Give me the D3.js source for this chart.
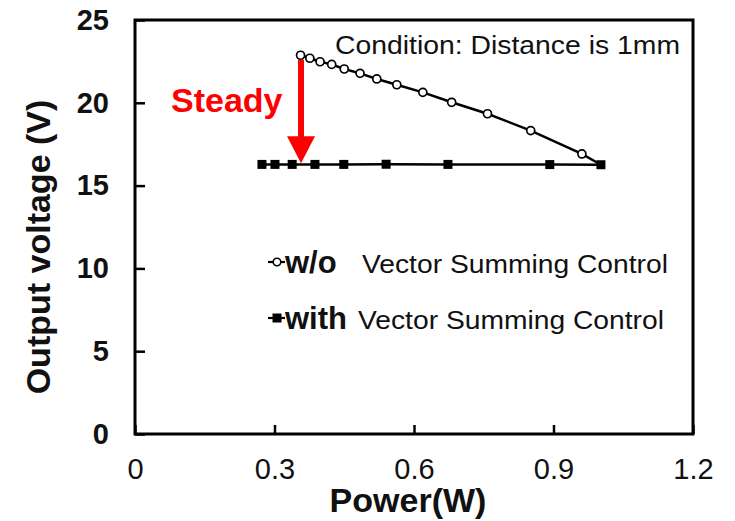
<!DOCTYPE html>
<html>
<head>
<meta charset="utf-8">
<script src="https://cdn.jsdelivr.net/npm/d3@7"></script>
<style>
  body { margin: 0; background: #fff; }
  svg { display: block; font-family: "Liberation Sans", Arial, sans-serif; }
</style>
</head>
<body>
<div id="chart"></div>
<script>
// data
const withoutPower = [0.356, 0.376, 0.398, 0.423, 0.450, 0.484, 0.520, 0.563, 0.619, 0.681, 0.758, 0.851, 0.961, 1.002];
const withoutVoltage = [22.87, 22.69, 22.48, 22.32, 22.04, 21.78, 21.44, 21.09, 20.63, 20.03, 19.34, 18.32, 16.91, 16.26];
const withPower = [0.273, 0.301, 0.338, 0.387, 0.449, 0.540, 0.673, 0.892, 1.002];
const withVoltage = [16.28, 16.28, 16.28, 16.28, 16.28, 16.29, 16.28, 16.27, 16.26];
const xTicks = [0, 0.3, 0.6, 0.9, 1.2];
const yTicks = [0, 5, 10, 15, 20, 25];
const arrowPower = 0.357, arrowFrom = 22.6, arrowTo = 16.35;

const width = 735, height = 521;
const margin = { top: 20, right: 42, bottom: 87, left: 135 };
const innerWidth = width - margin.left - margin.right;
const innerHeight = height - margin.top - margin.bottom;
const font = '"Liberation Sans", Arial, sans-serif';

const svg = d3.select("#chart").append("svg")
  .attr("width", width)
  .attr("height", height);

const g = svg.append("g")
  .attr("transform", `translate(${margin.left},${margin.top})`);

const x = d3.scaleLinear().domain([0, 1.2]).range([0, innerWidth]);
const y = d3.scaleLinear().domain([0, 25]).range([innerHeight, 0]);

// x axis, ticks pointing inward
const xAxis = g.append("g")
  .attr("transform", `translate(0,${innerHeight})`)
  .call(d3.axisBottom(x).tickValues(xTicks).tickFormat(d => d === 0 ? "0" : d3.format(".1f")(d))
    .tickSize(-9).tickPadding(24));
xAxis.attr("font-family", font);
xAxis.select(".domain").remove();
xAxis.selectAll("line").attr("stroke", "#000").attr("stroke-width", 2.5);
xAxis.selectAll("text").attr("font-size", "29px").attr("fill", "#111");

// y axis
const yAxis = g.append("g")
  .call(d3.axisLeft(y).tickValues(yTicks).tickSize(-10).tickPadding(26));
yAxis.attr("font-family", font);
yAxis.select(".domain").remove();
yAxis.selectAll("line").attr("stroke", "#000").attr("stroke-width", 2.5);
yAxis.selectAll("text").attr("font-size", "29px").attr("font-weight", "bold").attr("fill", "#111");

// frame
g.append("rect")
  .attr("width", innerWidth)
  .attr("height", innerHeight)
  .attr("fill", "none")
  .attr("stroke", "#000")
  .attr("stroke-width", 3);

// axis titles
svg.append("text")
  .attr("x", margin.left + innerWidth / 2 - 6)
  .attr("y", 512)
  .attr("text-anchor", "middle")
  .attr("font-size", "34px")
  .attr("font-weight", "bold")
  .attr("fill", "#111")
  .text("Power(W)");

svg.append("text")
  .attr("transform", `translate(50,${margin.top + innerHeight / 2 + 20}) rotate(-90)`)
  .attr("text-anchor", "middle")
  .attr("font-size", "34px")
  .attr("font-weight", "bold")
  .attr("fill", "#111")
  .text("Output voltage (V)");

const line = d3.line().x(d => x(d[0])).y(d => y(d[1]));
const wo = withoutPower.map((p, i) => [p, withoutVoltage[i]]);
const wi = withPower.map((p, i) => [p, withVoltage[i]]);

// with control: line + filled squares
g.append("path").datum(wi)
  .attr("fill", "none").attr("stroke", "#000").attr("stroke-width", 2.5)
  .attr("d", line);
g.selectAll("rect.with").data(wi).enter().append("rect")
  .attr("class", "with")
  .attr("x", d => x(d[0]) - 4.5).attr("y", d => y(d[1]) - 4.5)
  .attr("width", 9).attr("height", 9)
  .attr("fill", "#000");

// without control: line + open circles
g.append("path").datum(wo)
  .attr("fill", "none").attr("stroke", "#000").attr("stroke-width", 2.5)
  .attr("d", line);
g.selectAll("circle.wo").data(wo.slice(0, -1)).enter().append("circle")
  .attr("class", "wo")
  .attr("cx", d => x(d[0])).attr("cy", d => y(d[1]))
  .attr("r", 4)
  .attr("fill", "#fff").attr("stroke", "#000").attr("stroke-width", 1.7);

// red arrow
const ax = x(arrowPower), ay0 = y(arrowFrom), ay1 = y(arrowTo);
g.append("line")
  .attr("x1", ax).attr("x2", ax)
  .attr("y1", ay0).attr("y2", ay1 - 24)
  .attr("stroke", "#ff0000").attr("stroke-width", 6);
g.append("path")
  .attr("d", `M${ax - 14},${ay1 - 27} L${ax + 14},${ay1 - 27} L${ax},${ay1} Z`)
  .attr("fill", "#ff0000");

svg.append("text")
  .attr("x", 171).attr("y", 112)
  .attr("font-size", "34px").attr("font-weight", "bold")
  .attr("fill", "#ff0000")
  .text("Steady");

svg.append("text")
  .attr("x", 335).attr("y", 54)
  .attr("font-size", "26px")
  .attr("fill", "#111")
  .attr("textLength", 345).attr("lengthAdjust", "spacingAndGlyphs")
  .text("Condition: Distance is 1mm");

// legend
const legend = svg.append("g");
const rows = [
  { label: "w/o", y: 262, marker: "circle", tx: 362 },
  { label: "with", y: 318, marker: "square", tx: 358 }
];
rows.forEach(r => {
  legend.append("line")
    .attr("x1", 268).attr("x2", 285)
    .attr("y1", r.y).attr("y2", r.y)
    .attr("stroke", "#000").attr("stroke-width", 2.2);
  if (r.marker === "circle") {
    legend.append("circle").attr("cx", 277).attr("cy", r.y).attr("r", 3.8)
      .attr("fill", "#fff").attr("stroke", "#000").attr("stroke-width", 1.6);
  } else {
    legend.append("rect").attr("x", 272.5).attr("y", r.y - 4.5).attr("width", 9).attr("height", 9)
      .attr("fill", "#000");
  }
  legend.append("text")
    .attr("x", 285).attr("y", r.y + 11)
    .attr("font-size", "31px").attr("font-weight", "bold").attr("fill", "#111")
    .text(r.label);
  legend.append("text")
    .attr("x", r.tx).attr("y", r.y + 11)
    .attr("font-size", "25px").attr("fill", "#111")
    .attr("textLength", 306).attr("lengthAdjust", "spacingAndGlyphs")
    .text("Vector Summing Control");
});
</script>
</body>
</html>
